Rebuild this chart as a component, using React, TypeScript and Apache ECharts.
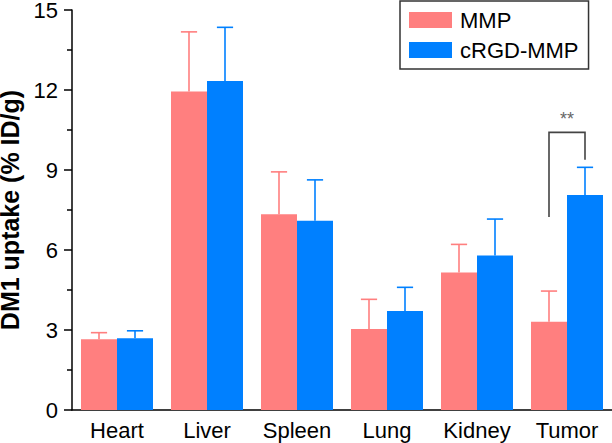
import React, { useEffect, useRef } from "react";
import * as echarts from "echarts";

const categories = ["Heart", "Liver", "Spleen", "Lung", "Kidney", "Tumor"];
const seriesNames = ["MMP", "cRGD-MMP"];
const mmpMean = [2.65, 11.94, 7.34, 3.04, 5.16, 3.31];
const mmpSd = [0.25, 2.24, 1.59, 1.11, 1.05, 1.15];
const crgdMean = [2.69, 12.34, 7.1, 3.71, 5.79, 8.06];
const crgdSd = [0.28, 2.01, 1.53, 0.89, 1.37, 1.04];
const yTicks = [0, 3, 6, 9, 12, 15];
// significance bracket: [category index, left leg bottom, right leg bottom, bracket top, label y]
const sigBracket = [[5, 7.24, 9.38, 10.41, 10.9]];
const sigLabel = "**";

const FONT = "'Liberation Sans', Arial, Helvetica, sans-serif";
const PINK = "#FF7F7F";
const BLUE = "#0080FF";

function errorSeries(name: string, mean: number[], sd: number[], color: string, offset: number) {
  return {
    type: "custom",
    name: name + "-err",
    z: 5,
    silent: true,
    data: mean.map((m, i) => [i, m, m + sd[i]]),
    encode: { x: 0, y: [1, 2] },
    renderItem: (params: any, api: any) => {
      const i = api.value(0);
      const band = api.size([1, 0])[0];
      const p0 = api.coord([i, api.value(1)]);
      const p1 = api.coord([i, api.value(2)]);
      const x = p0[0] + offset * band;
      const half = band * 0.09;
      const style = { stroke: color, lineWidth: 1.6 };
      return {
        type: "group",
        children: [
          { type: "line", shape: { x1: x, y1: p0[1], x2: x, y2: p1[1] }, style },
          { type: "line", shape: { x1: x - half, y1: p1[1], x2: x + half, y2: p1[1] }, style },
        ],
      };
    },
  };
}

export default function App() {
  const ref = useRef<HTMLDivElement>(null);
  useEffect(() => {
    if (!ref.current) return;
    const chart = echarts.init(ref.current, undefined, { renderer: "svg" });
    chart.setOption({
      animation: false,
      textStyle: { fontFamily: FONT },
      grid: { left: 72, right: 0, top: 10, bottom: 33, containLabel: false, outerBoundsMode: "none" },
      legend: {
        data: seriesNames,
        orient: "vertical",
        left: 400,
        top: 1,
        padding: [8, 10, 8, 9],
        itemWidth: 43,
        itemHeight: 16,
        itemGap: 8,
        icon: "rect",
        borderColor: "#333",
        borderWidth: 1.5,
        textStyle: { fontSize: 22, color: "#000", fontFamily: FONT, padding: [0, 0, 0, 3] },
      },
      xAxis: {
        type: "category",
        data: categories,
        axisLine: { lineStyle: { color: "#000", width: 1.5 } },
        axisTick: { show: false },
        axisLabel: { fontSize: 22, color: "#000", margin: 9, interval: 0, fontFamily: FONT },
      },
      yAxis: {
        type: "value",
        min: yTicks[0],
        max: yTicks[yTicks.length - 1],
        interval: 3,
        name: "DM1 uptake (% ID/g)",
        nameLocation: "middle",
        nameRotate: 90,
        nameGap: 44,
        nameTextStyle: { fontSize: 25, fontWeight: "bold", color: "#000", fontFamily: FONT },
        axisLine: { show: true, lineStyle: { color: "#000", width: 1.5 } },
        axisTick: { show: true, inside: false, length: 8, lineStyle: { color: "#000", width: 1.5 } },
        minorTick: { show: true, splitNumber: 2, length: 5, lineStyle: { color: "#000", width: 1.5 } },
        splitLine: { show: false },
        axisLabel: { fontSize: 22, color: "#000", margin: 14, fontFamily: FONT },
      },
      series: [
        {
          type: "bar",
          name: seriesNames[0],
          data: mmpMean,
          barWidth: "40%",
          barGap: "0%",
          itemStyle: { color: PINK },
        },
        {
          type: "bar",
          name: seriesNames[1],
          data: crgdMean,
          barWidth: "40%",
          barGap: "0%",
          itemStyle: { color: BLUE },
        },
        errorSeries(seriesNames[0], mmpMean, mmpSd, PINK, -0.2),
        errorSeries(seriesNames[1], crgdMean, crgdSd, BLUE, 0.2),
        {
          type: "custom",
          name: "sig",
          z: 6,
          silent: true,
          data: sigBracket,
          encode: { x: 0, y: [1, 2, 3, 4] },
          renderItem: (params: any, api: any) => {
            const i = api.value(0);
            const band = api.size([1, 0])[0];
            const pl = api.coord([i, api.value(1)]);
            const pr = api.coord([i, api.value(2)]);
            const pt = api.coord([i, api.value(3)]);
            const pLab = api.coord([i, api.value(4)]);
            const xl = pl[0] - 0.2 * band;
            const xr = pl[0] + 0.2 * band;
            return {
              type: "group",
              children: [
                {
                  type: "polyline",
                  shape: { points: [[xl, pl[1]], [xl, pt[1]], [xr, pt[1]], [xr, pr[1]]] },
                  style: { stroke: "#444", lineWidth: 1.6, fill: "none" },
                },
                {
                  type: "text",
                  x: (xl + xr) / 2,
                  y: pLab[1],
                  style: {
                    text: sigLabel,
                    fill: "#666",
                    font: `18px ${FONT}`,
                    align: "center",
                    verticalAlign: "middle",
                  },
                },
              ],
            };
          },
        },
      ],
    });
    return () => chart.dispose();
  }, []);
  return (
    <div
      ref={ref}
      style={{ position: "fixed", left: 0, top: 0, width: 612, height: 443, background: "#fff" }}
    />
  );
}
